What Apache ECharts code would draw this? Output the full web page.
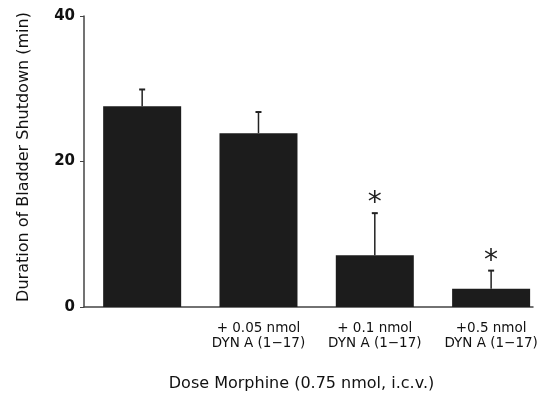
<!DOCTYPE html>
<html><head><meta charset="utf-8">
<script src="https://cdn.jsdelivr.net/npm/echarts@6/dist/echarts.min.js"></script>
<style>html,body{margin:0;padding:0;background:#fff}#c{width:559px;height:394px}</style>
</head><body><div id="c"></div>
<script>
const categories = ['', '+ 0.05 nmol\nDYN A (1\u221217)', '+ 0.1 nmol\nDYN A (1\u221217)', '+0.5 nmol\nDYN A (1\u221217)'];
const positions = [0, 1, 2, 3];
const means = [27.6, 23.9, 7.1, 2.5];
const errorsUp = [2.3, 2.9, 5.8, 2.5];
const significant = [false, false, true, true];
const yTicks = [0, 20, 40];

const FONT = '"DejaVu Sans", sans-serif';
const chart = echarts.init(document.getElementById('c'), null, {renderer: 'canvas'});

const barData = positions.map((p, i) => [p, means[i]]);
const errData = positions.map((p, i) => [p, means[i], means[i] + errorsUp[i]]);
const starData = positions.map((p, i) => [p, means[i] + errorsUp[i]]).filter((d, i) => significant[i]);

chart.setOption({
  animation: false,
  backgroundColor: '#fff',
  grid: {left: 84, right: 26, top: 16, bottom: 87, containLabel: false, outerBoundsMode: 'none'},
  xAxis: {
    type: 'value', min: -0.5, max: 3.36,
    splitLine: {show: false},
    axisLine: {show: true, onZero: false, lineStyle: {color: '#444', width: 1.5}},
    axisTick: {show: false},
    axisLabel: {
      customValues: [1, 2, 3],
      formatter: v => categories[Math.round(v)],
      fontFamily: FONT, fontSize: 13.5, color: '#111', lineHeight: 15, margin: 14
    },
    name: 'Dose Morphine (0.75 nmol, i.c.v.)',
    nameLocation: 'middle', nameGap: 69,
    nameTextStyle: {fontFamily: FONT, fontSize: 16, color: '#111', padding: [0, 14, 0, 0]}
  },
  yAxis: {
    type: 'value', min: yTicks[0], max: yTicks[yTicks.length - 1], interval: 20,
    splitLine: {show: false},
    axisLine: {show: true, onZero: false, lineStyle: {color: '#444', width: 1.5}},
    axisTick: {show: true, length: 4, lineStyle: {color: '#444'}},
    axisLabel: {fontFamily: FONT, fontSize: 15, fontWeight: 'bold', color: '#111', margin: 9},
    name: 'Duration of Bladder Shutdown (min)',
    nameLocation: 'middle', nameGap: 52,
    nameTextStyle: {fontFamily: FONT, fontSize: 16, color: '#111', padding: [0, 0, 0, 9]}
  },
  series: [
    {
      type: 'bar', data: barData, barWidth: 78,
      itemStyle: {color: '#1c1c1c'}
    },
    {
      type: 'custom', data: errData,
      renderItem: (params, api) => {
        const x = api.value(0);
        const b = api.coord([x, api.value(1)]);
        const t = api.coord([x, api.value(2)]);
        return {type: 'group', children: [
          {type: 'line', shape: {x1: b[0], y1: b[1], x2: t[0], y2: t[1]}, style: {stroke: '#222', lineWidth: 1.5}},
          {type: 'line', shape: {x1: t[0] - 3, y1: t[1], x2: t[0] + 3, y2: t[1]}, style: {stroke: '#222', lineWidth: 2}}
        ]};
      },
      z: 3
    },
    {
      type: 'custom', data: starData,
      renderItem: (params, api) => {
        const p = api.coord([api.value(0), api.value(1)]);
        return {type: 'text', x: p[0], y: p[1] - 9,
          style: {text: '*', fontFamily: FONT, fontSize: 28, fill: '#222', align: 'center', verticalAlign: 'middle'}};
      }
    }
  ]
});
</script></body></html>
